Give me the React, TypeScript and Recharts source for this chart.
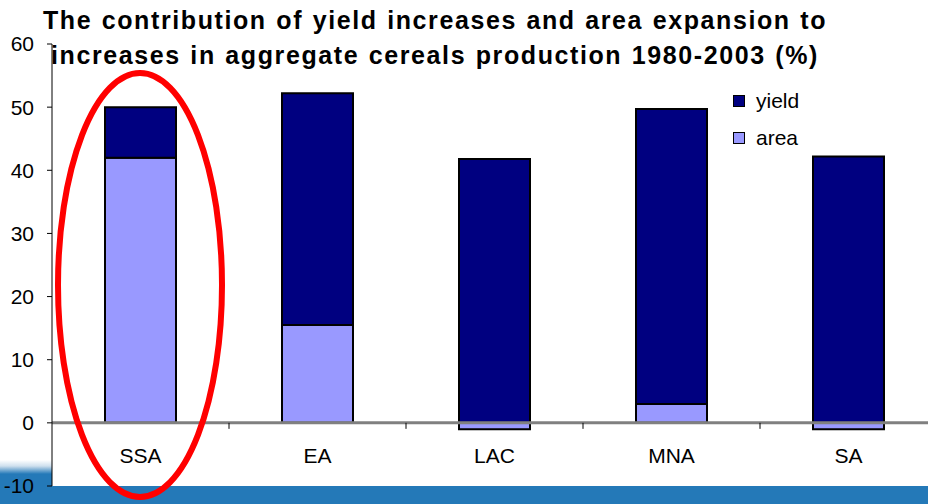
import { Bar, BarChart, ReferenceLine, XAxis, YAxis } from 'recharts';

const regions = ['SSA', 'EA', 'LAC', 'MNA', 'SA'];
const areaValues = [42, 15.5, -1, 3, -1];
const yieldValues = [8, 36.7, 41.8, 46.7, 42.2];
const yTicks = [-10, 0, 10, 20, 30, 40, 50, 60];

const data = regions.map((name, i) => ({
	name,
	area: areaValues[i],
	yield: yieldValues[i],
}));

const FONT = 'Liberation Sans, Arial, sans-serif';

// plot geometry (used only for the axis decorations)
const TOP = 44;
const PLOT_H = 442;
const ZERO_Y = TOP + (PLOT_H * 60) / 70;
const BAND = 177;

function RegionTick({ x, payload, index }: any) {
	return (
		<g>
			<text x={x} y={ZERO_Y + 40} textAnchor="middle" fontSize={21} fontFamily={FONT} fill="#000">
				{payload.value}
			</text>
			{index < regions.length - 1 && (
				<line x1={x + BAND / 2} x2={x + BAND / 2} y1={ZERO_Y} y2={ZERO_Y + 6} stroke="#000" strokeWidth={1} />
			)}
		</g>
	);
}

export default function App() {
	return (
		<div
			style={{
				position: 'absolute',
				left: 0,
				top: 0,
				width: 928,
				height: 504,
				overflow: 'hidden',
				background: '#fff',
				fontFamily: FONT,
			}}
		>
			{/* slide background strip */}
			<div
				style={{
					position: 'absolute',
					left: 0,
					top: 460,
					width: 928,
					height: 44,
					background: 'linear-gradient(to bottom, #ffffff 0px, #cfe0ee 6px, #2479b8 14px, #2479b8 100%)',
				}}
			/>
			<div style={{ position: 'absolute', left: 52, top: 440, width: 876, height: 46, background: '#fff' }} />
			<div style={{ position: 'absolute', left: 0, top: 0 }}>
				<BarChart
					width={945}
					height={504}
					data={data}
					stackOffset="sign"
					margin={{ top: TOP, right: 8, left: 0, bottom: 0 }}
					barSize={71}
				>
					<XAxis
						dataKey="name"
						height={504 - TOP - PLOT_H}
						axisLine={false}
						tickLine={false}
						tick={<RegionTick />}
						interval={0}
					/>
					<YAxis
						type="number"
						domain={[-10, 60]}
						ticks={yTicks}
						width={52}
						axisLine={{ stroke: '#000', strokeWidth: 1 }}
						tickLine={{ stroke: '#000' }}
						tickSize={5}
						tickMargin={13}
						tick={{ fontSize: 21, fill: '#000', fontFamily: FONT }}
					/>
					<Bar dataKey="area" stackId="a" fill="#9999ff" stroke="#000" strokeWidth={2} isAnimationActive={false} />
					<Bar dataKey="yield" stackId="a" fill="#000080" stroke="#000" strokeWidth={2} isAnimationActive={false} />
					<ReferenceLine y={0} stroke="#808080" strokeWidth={3} />
				</BarChart>
			</div>
			{/* legend */}
			<div style={{ position: 'absolute', left: 733, top: 82, fontSize: 21, lineHeight: '37px', color: '#000' }}>
				<div style={{ display: 'flex', alignItems: 'center' }}>
					<span style={{ width: 10, height: 10, background: '#000080', border: '1px solid #000', marginRight: 11 }} />
					yield
				</div>
				<div style={{ display: 'flex', alignItems: 'center' }}>
					<span style={{ width: 10, height: 10, background: '#9999ff', border: '1px solid #000', marginRight: 11 }} />
					area
				</div>
			</div>
			{/* title */}
			<div
				style={{
					position: 'absolute',
					left: 0,
					top: 3,
					width: 870,
					textAlign: 'center',
					fontWeight: 'bold',
					fontSize: 25,
					lineHeight: '35px',
					letterSpacing: 1.6,
					wordSpacing: 1,
					color: '#000',
				}}
			>
				The contribution of yield increases and area expansion to
				<br />
				increases in aggregate cereals production 1980-2003 (%)
			</div>
			{/* highlight annotation */}
			<svg width={928} height={504} style={{ position: 'absolute', left: 0, top: 0, pointerEvents: 'none' }}>
				<ellipse cx={140} cy={285} rx={82} ry={212} fill="none" stroke="#ff0000" strokeWidth={6} />
			</svg>
		</div>
	);
}
